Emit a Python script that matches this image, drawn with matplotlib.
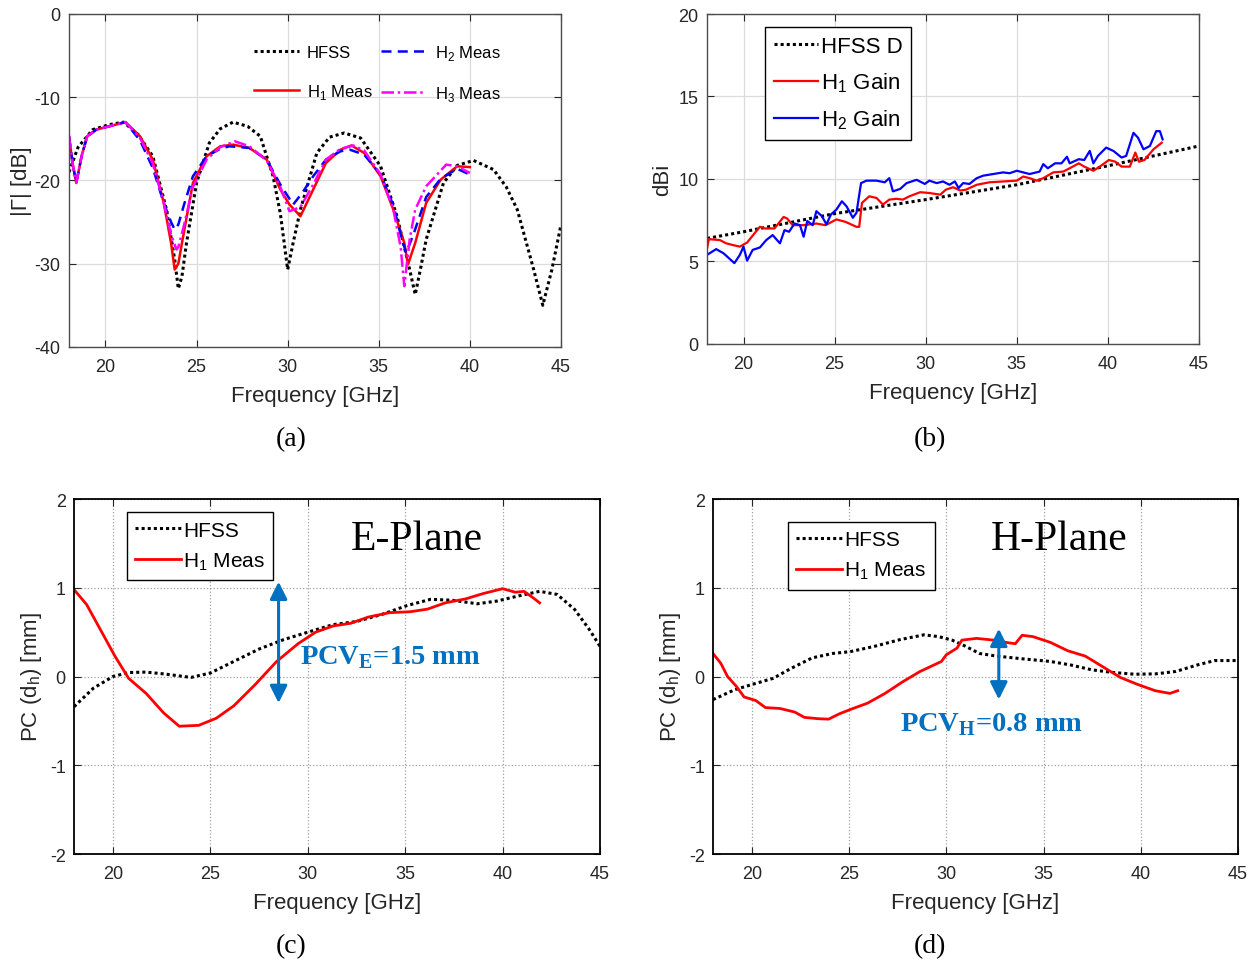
import numpy as np
import matplotlib
matplotlib.use('Agg')
import matplotlib.pyplot as plt

plt.rcParams['font.family'] = ['Liberation Sans', 'DejaVu Sans']
plt.rcParams['mathtext.fontset'] = 'custom'
plt.rcParams['mathtext.rm'] = 'Liberation Sans'
plt.rcParams['axes.unicode_minus'] = False

# (a) reflection coefficient
fa_hfss = [18, 18.5, 19.3, 20.2, 21.0, 21.8, 22.6, 23.35, 23.8, 24.0, 24.2, 24.45, 25.0, 25.7, 26.3, 27.0,
           27.8, 28.5, 29.2, 29.6, 30.0, 30.3, 30.7, 31.6, 32.3, 33.1, 34.0, 35.1, 36.0, 36.6, 37.0, 37.3,
           37.6, 38.55, 39.3, 40.2, 41.3, 42.0, 42.6, 43.5, 44.0, 44.5, 45.0]
ga_hfss = [-19.0, -16.0, -13.9, -13.3, -13.0, -14.5, -17.1, -23.5, -29.5, -33.0, -31.5, -27.5, -20.3, -15.5,
           -13.8, -13.0, -13.5, -14.7, -19.5, -24.0, -30.7, -27.5, -23.5, -16.7, -14.8, -14.3, -14.9,
           -18.3, -24.3, -29.8, -33.7, -30.5, -27.1, -20.3, -18.2, -17.6, -18.7, -20.8, -23.5, -30.7, -35.0,
           -30.7, -25.3]
fa_h1 = [18.0, 18.2, 18.4, 18.7, 19.0, 19.5, 20.2, 21.1, 21.9, 22.6, 23.2, 23.6, 23.8, 24.0, 24.2, 24.8,
         25.55, 26.3, 27.0, 27.9, 28.85, 29.6, 30.1, 30.7, 31.4, 32.1, 32.9, 33.5, 34.2, 35.1, 35.8, 36.4,
         36.6, 37.0, 37.6, 38.4, 39.3, 40.0]
ga_h1 = [-14.7, -18.0, -20.3, -17.0, -14.7, -13.9, -13.5, -13.0, -14.7, -17.5, -22.7, -27.5, -30.7, -30.0,
         -27.5, -20.3, -17.1, -15.9, -15.7, -16.1, -17.5, -21.1, -22.9, -24.3, -21.1, -17.9, -16.3, -15.8,
         -16.7, -19.5, -23.5, -27.5, -30.1, -27.5, -22.7, -19.9, -18.3, -18.4]
fa_h2 = [18.0, 18.2, 18.4, 18.7, 19.0, 19.5, 20.2, 21.1, 21.9, 22.6, 23.2, 23.6, 23.8, 24.0, 24.3, 24.8,
         25.55, 26.3, 26.8, 27.9, 28.85, 29.6, 30.3, 30.8, 31.4, 32.1, 32.9, 33.4, 34.2, 35.1, 35.8, 36.2,
         36.5, 36.9, 37.6, 38.4, 39.3, 40.0]
ga_h2 = [-14.7, -18.0, -20.3, -17.0, -14.7, -13.9, -13.5, -13.0, -15.2, -18.5, -22.7, -25.0, -25.9, -25.3,
         -23.0, -19.5, -17.1, -16.2, -15.9, -16.1, -17.5, -20.5, -22.9, -21.5, -19.5, -17.5, -16.5, -16.3,
         -16.9, -19.3, -23.0, -26.5, -28.7, -26.5, -22.0, -19.8, -18.6, -19.3]
fa_h3 = [18.0, 18.2, 18.4, 18.7, 19.0, 19.5, 20.2, 21.1, 21.9, 22.6, 23.2, 23.6, 23.9, 24.0, 24.3, 24.8,
         25.55, 26.3, 27.1, 27.9, 28.85, 29.6, 30.1, 30.7, 31.4, 32.1, 32.9, 33.6, 34.2, 35.1, 35.8, 36.2,
         36.4, 36.7, 37.0, 37.6, 38.7, 39.3, 40.0]
ga_h3 = [-14.7, -18.0, -20.3, -17.0, -14.7, -13.9, -13.5, -13.0, -14.9, -18.0, -22.7, -26.5, -28.3, -28.0,
         -25.5, -20.8, -17.5, -16.0, -15.3, -15.9, -17.6, -20.8, -23.7, -23.2, -20.5, -17.5, -16.2, -15.8,
         -16.4, -19.3, -23.5, -28.0, -32.7, -27.0, -23.5, -20.7, -18.1, -18.3, -19.1]

# (b) gain
fb_hfss = [18, 20, 25, 30, 35, 40, 45]
gb_hfss = [6.4, 6.8, 7.9, 8.75, 9.65, 10.8, 12.0]
fb_h1 = [18.0, 18.1, 18.7, 19.05, 19.4, 19.8, 20.2, 20.6, 20.9, 21.2, 21.7, 22.2, 22.4, 22.7, 23.3, 24.0,
         24.5, 25.1, 25.6, 26.2, 26.35, 26.5, 26.9, 27.3, 27.65, 28.0, 28.4, 28.75, 29.1, 29.7, 30.2, 30.8,
         31.1, 31.5, 31.9, 32.2, 32.8, 33.5, 34.25, 35.0, 35.35, 35.7, 36.1, 36.45, 37.0, 37.55, 37.9, 38.4,
         38.7, 39.2, 39.55, 40.05, 40.4, 40.75, 41.2, 41.5, 41.7, 42.0, 42.5, 42.95]
gb_h1 = [5.8, 6.35, 6.3, 6.1, 6.0, 5.9, 6.15, 6.7, 7.1, 7.0, 7.0, 7.7, 7.6, 7.2, 7.2, 7.3,
         7.2, 7.55, 7.4, 7.1, 7.1, 8.55, 8.95, 8.85, 8.45, 8.75, 8.8, 8.75, 8.95, 9.2, 9.15, 9.05,
         9.35, 9.5, 9.3, 9.35, 9.65, 9.8, 9.85, 9.9, 10.15, 10.05, 9.9, 10.05, 10.4, 10.45, 10.65, 10.95,
         10.75, 10.5, 10.75, 11.15, 11.05, 10.75, 10.75, 11.6, 11.05, 11.15, 11.8, 12.2]
fb_h2 = [18.0, 18.5, 18.9, 19.2, 19.5, 19.8, 20.0, 20.2, 20.5, 20.9, 21.25, 21.6, 22.0, 22.25, 22.5, 22.8,
         23.1, 23.3, 23.5, 23.8, 24.0, 24.3, 24.55, 24.8, 25.1, 25.4, 25.65, 26.0, 26.2, 26.45, 26.75, 27.3,
         27.75, 28.0, 28.2, 28.6, 28.95, 29.5, 29.95, 30.2, 30.6, 30.95, 31.3, 31.6, 31.8, 32.05, 32.4, 32.8,
         33.15, 33.7, 34.25, 34.6, 35.0, 35.35, 35.7, 36.25, 36.45, 36.7, 37.1, 37.45, 37.75, 37.9, 38.4,
         38.7, 39.0, 39.2, 39.45, 39.9, 40.3, 40.75, 41.0, 41.4, 41.65, 41.95, 42.3, 42.65, 42.85, 43.0]
gb_h2 = [5.4, 5.75, 5.5, 5.2, 4.9, 5.4, 5.9, 5.05, 5.7, 5.85, 6.3, 6.6, 6.1, 6.9, 6.8, 7.3,
         7.2, 6.5, 7.45, 7.2, 8.05, 7.75, 7.25, 7.85, 8.15, 8.65, 8.35, 7.65, 7.95, 9.75, 9.9, 9.9,
         9.8, 10.05, 9.25, 9.4, 9.75, 9.95, 9.7, 9.9, 9.75, 9.85, 9.65, 9.85, 9.45, 9.75, 9.7, 10.05,
         10.2, 10.3, 10.4, 10.35, 10.5, 10.4, 10.3, 10.45, 10.9, 10.65, 10.95, 10.95, 11.35, 10.95, 11.2,
         11.15, 11.7, 10.95, 11.4, 11.9, 11.7, 11.3, 11.4, 12.8, 12.5, 11.8, 12.0, 12.9, 12.9, 12.4]

# (c) E-plane phase centre
fc_hfss = [18, 19.0, 20, 20.8, 21.7, 22.6, 24.0, 25, 26.2, 27.5, 28.75, 30, 31.3, 32.5, 33.8, 35.1, 36.3,
           37.4, 38.7, 39.7, 40.85, 41.9, 42.8, 43.7, 44.45, 45]
pc_hfss = [-0.34, -0.13, 0.0, 0.045, 0.05, 0.03, -0.01, 0.04, 0.17, 0.31, 0.415, 0.5, 0.585, 0.62, 0.7, 0.8,
           0.87, 0.86, 0.82, 0.85, 0.91, 0.96, 0.925, 0.755, 0.53, 0.34]
fc_h1 = [18, 18.65, 19.45, 20.1, 20.8, 21.7, 22.6, 23.4, 24.4, 25.3, 26.2, 27.3, 28.4, 29.5, 30.4, 31.3,
         32.2, 33.1, 34.2, 35.25, 36.15, 37.05, 38.1, 39.0, 40, 40.65, 41.1, 41.55, 41.9]
pc_h1 = [0.98, 0.81, 0.49, 0.23, -0.02, -0.19, -0.41, -0.56, -0.55, -0.47, -0.33, -0.09, 0.17, 0.37, 0.5,
         0.57, 0.6, 0.67, 0.72, 0.73, 0.76, 0.83, 0.875, 0.935, 0.99, 0.95, 0.96, 0.89, 0.83]

# (d) H-plane phase centre
fd_hfss = [18.0, 19.1, 20, 21.1, 22.0, 23.1, 24.15, 25.05, 26.3, 27.6, 28.85, 29.6, 30.3, 31.0, 31.7, 32.6,
           33.9, 35.35, 36.4, 37.5, 38.6, 39.7, 40.75, 41.8, 42.9, 43.8, 45]
pd_hfss = [-0.26, -0.15, -0.09, -0.02, 0.09, 0.21, 0.26, 0.28, 0.34, 0.415, 0.47, 0.45, 0.41, 0.34, 0.26,
           0.23, 0.2, 0.17, 0.13, 0.075, 0.045, 0.026, 0.03, 0.057, 0.13, 0.18, 0.18]
fd_h1 = [18.0, 18.4, 18.75, 19.2, 19.6, 20.2, 20.7, 21.45, 22.2, 22.7, 23.4, 23.95, 24.5, 25.2, 25.95,
         26.85, 27.75, 28.65, 29.75, 30.0, 30.55, 30.8, 31.55, 32.45, 33.2, 33.55, 33.9, 34.45, 35.35,
         36.25, 37.15, 38.05, 38.95, 39.85, 40.75, 41.5, 41.9]
pd_h1 = [0.26, 0.15, 0.0, -0.11, -0.23, -0.27, -0.35, -0.36, -0.4, -0.46, -0.475, -0.48, -0.42, -0.36,
         -0.3, -0.19, -0.06, 0.057, 0.17, 0.245, 0.32, 0.41, 0.43, 0.41, 0.38, 0.37, 0.465, 0.45, 0.385,
         0.29, 0.23, 0.11, -0.01, -0.09, -0.16, -0.19, -0.16]

TXT = '#262626'
BLUE = '#0070C0'
serif = ['Liberation Serif', 'DejaVu Serif']

fig = plt.figure(figsize=(12.59, 9.62), dpi=100)
ax_a = fig.add_axes([0.0548, 0.6383, 0.3908, 0.3462])
ax_b = fig.add_axes([0.5616, 0.6414, 0.3908, 0.3430])
ax_c = fig.add_axes([0.0588, 0.1112, 0.4178, 0.3690])
ax_d = fig.add_axes([0.5663, 0.1112, 0.4170, 0.3690])


def style(ax, matlab_new=True):
    ax.set_xlim(18, 45)
    ax.set_xticks([20, 25, 30, 35, 40, 45])
    ax.tick_params(direction='in', top=True, right=True, labelsize=13, colors=TXT, length=5)
    ax.tick_params(axis='x', pad=8)
    ax.tick_params(axis='y', pad=6)
    if matlab_new:
        ax.grid(True, color='#dcdcdc', linewidth=0.9)
        for s in ax.spines.values():
            s.set_color('#4d4d4d')
            s.set_linewidth(1.0)
    else:
        ax.grid(True, color='#a0a0a0', linestyle=':', linewidth=0.9)
        for s in ax.spines.values():
            s.set_color('black')
            s.set_linewidth(1.3)
    ax.set_xlabel('Frequency [GHz]', fontsize=16, color=TXT, labelpad=7)


def box_legend(ax, anchor, fs=16, hl=2.3, ls=0.45):
    leg = ax.legend(loc='upper left', bbox_to_anchor=anchor, fontsize=fs, handlelength=hl,
                    handletextpad=0.1, labelspacing=ls, borderpad=0.4, borderaxespad=0,
                    fancybox=False, framealpha=1)
    leg.get_frame().set_edgecolor('black')
    leg.get_frame().set_linewidth(1.0)
    return leg


# (a)
ax_a.plot(fa_hfss, ga_hfss, color='black', linestyle=(0, (1, 1)), linewidth=2.2, label='HFSS')
ax_a.plot(fa_h1, ga_h1, color='red', linewidth=1.8, label='H$_1$ Meas')
ax_a.plot(fa_h2, ga_h2, color='blue', linestyle=(0, (4, 2.5)), linewidth=1.8, label='H$_2$ Meas')
ax_a.plot(fa_h3, ga_h3, color='magenta', linestyle=(0, (5, 1.5, 1, 1.5)), linewidth=1.8, label='H$_3$ Meas')
style(ax_a)
ax_a.set_ylim(-40, 0)
ax_a.set_yticks([-40, -30, -20, -10, 0])
ax_a.set_ylabel('|Γ| [dB]', fontsize=16, color=TXT, labelpad=2)
ax_a.legend(loc='upper left', bbox_to_anchor=(0.362, 0.933), ncol=2, frameon=False, fontsize=12,
            handlelength=2.7, columnspacing=0.5, labelspacing=1.3, handletextpad=0.5, borderaxespad=0)

# (b)
ax_b.plot(fb_hfss, gb_hfss, color='black', linestyle=(0, (1, 1)), linewidth=2.2, label='HFSS D')
ax_b.plot(fb_h1, gb_h1, color='red', linewidth=1.6, label='H$_1$ Gain')
ax_b.plot(fb_h2, gb_h2, color='blue', linewidth=1.6, label='H$_2$ Gain')
style(ax_b)
ax_b.set_ylim(0, 20)
ax_b.set_yticks([0, 5, 10, 15, 20])
ax_b.set_ylabel('dBi', fontsize=16, color=TXT, labelpad=4)
box_legend(ax_b, (0.118, 0.96), fs=16, hl=2.0, ls=0.6)

# (c)
ax_c.plot(fc_hfss, pc_hfss, color='black', linestyle=(0, (1, 1)), linewidth=2.2, label='HFSS')
ax_c.plot(fc_h1, pc_h1, color='red', linewidth=2.0, label='H$_1$ Meas')
style(ax_c, matlab_new=False)
ax_c.set_ylim(-2, 2)
ax_c.set_yticks([-2, -1, 0, 1, 2])
ax_c.set_ylabel('PC (d$_\\mathregular{h}$) [mm]', fontsize=16, color=TXT, labelpad=4)
box_legend(ax_c, (0.10, 0.963), fs=15, hl=2.2, ls=0.5)
ax_c.text(35.6, 1.55, 'E-Plane', family=serif, fontsize=30, ha='center', va='center')
ax_c.annotate('', xy=(28.5, 1.1), xytext=(28.5, -0.33),
              arrowprops=dict(arrowstyle='<|-|>', color=BLUE, lw=2.2, mutation_scale=26))
ax_c.text(29.6, 0.22, 'PCV$_\\mathregular{E}$=1.5 mm', family=serif, fontsize=20.5, fontweight='bold',
          color=BLUE, ha='left', va='center')

# (d)
ax_d.plot(fd_hfss, pd_hfss, color='black', linestyle=(0, (1, 1)), linewidth=2.2, label='HFSS')
ax_d.plot(fd_h1, pd_h1, color='red', linewidth=2.0, label='H$_1$ Meas')
style(ax_d, matlab_new=False)
ax_d.set_ylim(-2, 2)
ax_d.set_yticks([-2, -1, 0, 1, 2])
ax_d.set_ylabel('PC (d$_\\mathregular{h}$) [mm]', fontsize=16, color=TXT, labelpad=4)
box_legend(ax_d, (0.143, 0.935), fs=15, hl=2.2, ls=0.5)
ax_d.text(35.8, 1.55, 'H-Plane', family=serif, fontsize=30, ha='center', va='center')
ax_d.annotate('', xy=(32.7, 0.57), xytext=(32.7, -0.29),
              arrowprops=dict(arrowstyle='<|-|>', color=BLUE, lw=2.2, mutation_scale=26))
ax_d.text(27.6, -0.53, 'PCV$_\\mathregular{H}$=0.8 mm', family=serif, fontsize=20.5, fontweight='bold',
          color=BLUE, ha='left', va='center')

# captions
for x, y, s in [(0.2315, 0.530, '(a)'), (0.7385, 0.530, '(b)'), (0.2315, 0.003, '(c)'), (0.7385, 0.003, '(d)')]:
    fig.text(x, y, s, family=serif, fontsize=20, ha='center', va='bottom')

fig.savefig('out.png', dpi=100)
